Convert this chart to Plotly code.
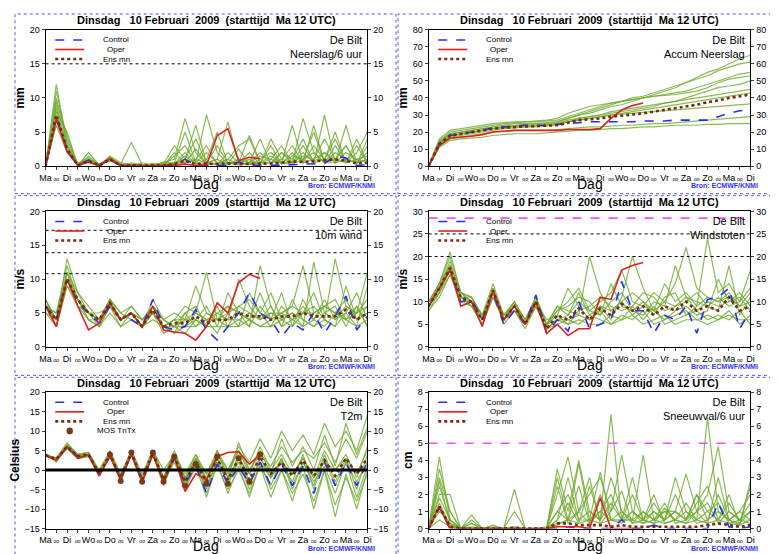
import plotly.graph_objects as go

hours = list(range(0, 361, 12))
hours_op = hours[:21]
day_names = ["Ma","Di","Wo","Do","Vr","Za","Zo","Ma","Di","Wo","Do","Vr","Za","Zo","Ma","Di"]

# ---------- Neerslag/6 uur ----------
pr_mean = [0,7.5,2.5,0.1,0.8,0.1,1.0,0.1,0.1,0.1,0.05,0.1,0.3,0.8,0.3,0.4,0.3,0.4,0.3,0.3,0.4,0.4,0.5,0.7,0.6,0.7,0.8,1.0,0.8,0.4,0.5]
pr_ctrl = [0,7.2,2.4,0.1,0.9,0.1,1.0,0.1,0.1,0.05,0.05,0.1,0.2,1.0,0.2,0.1,0.1,0.1,0.6,0.2,0.1,0.1,0.1,0.2,0.3,0.4,0.4,1.5,1.2,0.1,0.2]
pr_oper = [0,6.8,2.2,0.1,0.6,0.1,1.1,0.1,0.1,0.05,0.05,0.1,0.1,0.3,0.1,0.2,4.5,5.5,0.8,1.3,1.1]
pr_members = [
 [0,9,3,0.2,1.5,0.2,1.2,0.3,3.5,0.2,0.1,0.3,0.5,5,0.5,7.5,2,0.3,0.5,0.3,1,2,0.5,0.3,1,5,0.5,1,3,0.5,1],
 [0,11,4,0.3,0.5,0.1,1.5,0.5,0.2,0.1,0.2,0.4,3,1,6,0.5,1,6.5,0.5,2,0.3,4,1,0.5,7,2,0.5,3,0.5,4,0.5],
 [0,6,2,0.1,2,0.2,0.8,0.1,0.5,0.1,0.1,0.5,1,7,2,0.3,0.5,1,3,4,0.5,1,3,0.5,2,0.5,7.5,0.5,1,0.5,3],
 [0,8,5,0.2,1,0.3,1.2,0.2,0.1,0.5,0.1,0.1,2,0.5,1,3,0.2,0.5,0.2,0.5,2,0.5,0.5,6,0.5,3,1,4,0.5,2,5],
 [0,12,3,0.5,0.8,0.2,0.9,0.2,0.2,0.1,0.3,0.2,0.3,2,0.3,1,5,0.3,1,0.5,4,0.3,2,1,4,0.5,2,0.5,6,0.5,1],
 [0,7,2.5,0.1,1,0.1,1.3,0.1,0.1,0.1,0.1,0.6,0.5,1,4,0.5,0.2,2,0.5,1,0.3,0.5,1,3,0.5,1,4,1,0.5,3,0.5],
 [0,10,3.5,0.2,0.6,0.1,1,0.3,0.3,0.2,0.1,0.2,1.5,3,0.5,2,0.5,0.3,2.5,0.3,0.5,3,0.3,2,0.5,6,0.5,2,1,0.5,2],
 [0,8.5,2,0.3,1.2,0.2,1.1,0.1,0.2,0.1,0.4,0.1,0.5,0.5,1,0.5,3,0.5,0.5,4.5,0.5,0.5,2,0.5,3,0.5,1,5,0.5,1,0.5],
 [0,9.5,4.5,0.1,0.9,0.3,0.8,0.2,0.1,0.1,0.1,0.3,0.2,1.5,0.3,0.5,1,0.2,1,0.5,1.5,1,0.5,1.5,1,2,0.5,0.5,2,1,1.5],
 [0,7.5,3,0.2,0.7,0.1,1.2,0.1,0.1,0.1,0.1,0.1,0.4,0.5,2.5,0.3,0.3,1,0.3,0.3,0.5,1.5,0.5,0.5,1.5,1,2,1,3,0.3,4],
]

# ---------- Accum Neerslag ----------
ac_mean = [0,13,18,19,20,21,22,22.5,23,23.3,23.5,23.8,24,25.5,27,27.5,28,29,29.5,30.3,31,32,33,34,35,36,37.5,38.5,40,41,42]
ac_ctrl = [0,13,18,19,20,21,22.5,23,23.5,24,24,24,24.5,25,25.5,26,26,26,26,26,26.5,26.5,26.5,27,27,27,27,29,31,32.5,33]
ac_oper = [0,12,16.5,17,17.5,18.5,20,20.5,21,21,21,21,21,21.5,21.5,21.5,22,28,33,35.5,37]
ac_members = [
 [0,14,19,20,21,22,23,24,25,25,25,25.5,26,28,30,31,33,35,36,38,40,42,44,46,49,52,55,57,60,63,65],
 [0,15,20,21,22,23,24,25,25.5,26,26,26.5,27,29,31,33,35,37,38,40,41,43,45,47,49,51,53,56,58,60,61],
 [0,12,16,17,18,19,20,20.5,21,21,21,21,21.5,22,22.5,23,23,23.5,24,24,24.5,25,25,25.5,26,26.5,27,27.5,28,28.5,29],
 [0,13,17,18,19,20,21,22,22.5,23,23,23.5,24,26,28,29,30,31,32,33,34,35,37,38,40,42,44,46,47,48,50],
 [0,16,21,22,23,24,25,25.5,26,26,26.5,27,28,31,33,35,36,37,38,39,40,41,42,43,44,46,48,50,52,54,55],
 [0,11,15,16,16.5,17,18,18.5,19,19,19,19.5,20,20.5,21,21,21.5,22,22,22.5,23,23,23.5,24,24,24,24.5,24.5,25,25,25],
 [0,14,18,19,20,21,22,23,23.5,24,24,24.5,25,26,27,28,29,30,31,32,33,34,35,36,37,38,39,40,41,42,43],
 [0,15,19,20,21,22,23,24,24,24.5,25,25,26,28,30,32,34,36,38,39,40,41,41.5,42,43,44,46,49,51,52,53],
 [0,13,18,19,20,21,22,22.5,23,23,23.5,24,25,26,27,28,29,30,30.5,31,31.5,32,32.5,33,33.5,34,34.5,35,35.5,36,36.5],
 [0,14,18,19,20,21,22,23,23.5,24,24,24,25,27,28,29,30,32,33,34,35,36,37,38,39,40,41,42,43,44,45],
]

# ---------- 10m wind ----------
wi_mean = [6,4,10,7,5,4,6.5,4,5,3,5.5,3,3.5,3.5,4.5,3.5,4,4,5,4.5,4.5,4,4.5,4.5,5,4.5,4.5,4.5,5.5,4,5]
wi_ctrl = [6,4,10,6.5,5,3.5,6,4,4,3,7,3,2.5,3,5.5,2.5,1,3,5,8,5,4,1.5,3.5,2.5,5,2,4.5,7.5,2.5,4.5]
wi_oper = [6,3,10,6,2.5,3.5,6.5,4,5,3,6,2.5,2.2,2,1,3,6.5,5,9.5,10.7,10.1]
wi_members = [
 [6,5,12,7,5,4,7,5,6,4,6,4,5,4,9,5,4,6,5,4,8,4,5,6,12,5,6,5,7,4,6],
 [7,4,11,8,6,4,6,4,5,3,5,3,4,6,5,11,4,3,6,5,4,6,3,4,5,8,4,13,6,5,7],
 [5,3,9,6,4,3,6,3,4,3,4,3,3,3,3,4,2,5,3,8,5,3,6,4,3,4,7,4,5,8,4],
 [6,5,10,7,5,5,6,4,6,4,5,3,2,5,6,3,5,4,10,6,4,5,4,3,7,4,3,5,4,3,9],
 [7,4,11,6,5,4,7,5,4,3,6,4,3,2,4,3,6,3,4,3,12,6,3,7,4,3,5,6,3,6,3],
 [6,3,9,7,4,3,5,3,5,3,5,2,3,4,4,6,3,8,5,4,3,4,8,3,5,6,4,3,9,4,5],
 [5,4,10,6,5,4,6,4,5,4,6,3,4,3,5,4,4,5,6,7,5,8,4,5,3,12.5,5,4,6,5,11],
 [6,4,13,8,5,4,7,4,5,3,7,4,3,5,3,5,4,4,4,5,4,5,5,4,6,4,6,7,4,6,3],
 [7,3,10,7,4,4,6,4,5,3,5,3,2,3,4,3,3,3,3,4,3,3,4,5,4,3,4,3,5,3,4],
 [6,4,11,7,5,3,6,4,5,4,5,3,4,4,5,4,5,6,5,3,6,4,5,6,5,5,6,5,4,5,6],
]

# ---------- Windstoten ----------
st_mean = [9,13,17.5,11,10,6,12.5,6,9,5,10,4,7,6,8.5,6,8.5,7,9.5,8,9,7,9,8,10,8,9,8,11,8,9]
st_ctrl = [9,13,17,10,10.5,6,12,5,8,5,11.5,3,6,3.5,10,4,5,6,14.5,8,8,3,7,6,9,3,10.5,11,13,4,8]
st_oper = [9,13,17,9,10,4.5,12.5,6,9,5,10,3,5,2.5,4,4,11,10.5,17,18,18.7]
st_members = [
 [10,14,20,12,11,7,14,7,10,6,11,5,8,10,13,8,10,12,17,10,9,12,10,14,22,13,11,10,12,9,12],
 [9,12,18,12,10,6,13,6,9,5,10,5,9,8,7,20,12,8,10,12,10,8,14,10,12,9,24,12,14,10,17],
 [8,11,16,10,9,5,11,6,8,5,9,4,6,5,6,5,5,7,6,7,5,6,7,5,6,6,5,6,7,6,6],
 [10,13,19,11,11,7,12,7,9,6,10,6,7,13,9,6,9,6,11,20,13,8,6,8,9,7,8,15,10,12,9],
 [9,14,18,12,10,6,13,6,10,5,11,5,6,7,10,8,7,14,9,8,7,10,9,18,11,10,9,8,18,7,11],
 [9,12,17,11,9,6,12,5,8,4,9,4,5,6,5,7,6,5,7,6,8,5,6,7,8,6,7,6,8,5,7],
 [10,13,17,11,10,7,12,7,9,5,10,5,7,5,8,9,11,9,8,9,12,11,8,9,10,12,9,11,9,10,13],
 [9,13,18,10,10,6,13,6,9,5,10,5,8,9,11,10,7,10,12,8,10,7,11,12,7,9,11,10,11,9,10],
 [8,12,16,11,9,5,11,6,8,5,9,4,6,6,7,6,8,5,6,9,6,9,5,6,7,8,6,7,6,8,5],
 [10,14,21,12,11,6,13,7,10,6,11,5,9,7,12,7,9,8,10,7,9,8,10,9,11,8,10,9,10,11,8],
]

# ---------- T2m ----------
t_mean = [3.8,2.8,6,3.5,4,-1,4,-2,4.5,-2.5,4.5,-2.5,3.5,-3,2,-3,3,-2.5,3,-2.5,3.5,-1,2,-1.5,2.5,-1.5,2.5,-1.5,3,-1,3]
t_ctrl = [3.8,2.5,6,3.5,4,-1,3.5,-2,4,-2.5,4,-3,3,-3.5,1,-6,1.5,-3.5,1,-3.5,2,-4,1.5,-4,1,-6,2,-4,2,-4,2]
t_oper = [3.8,2.5,6,3,4,-1.5,3.5,-2.5,4,-3,4,-3,3.5,-5.5,-1,-2.5,3.5,4.5,4.7,1.5,4]
t_members = [
 [4,3,6.5,4,4.5,0,5,-1,5,-1,5,0,4,-1,4,-1,5,0,6,2,8,3,10,5,9,4,12,6,10,5,14],
 [4,2.5,5.5,3,3.5,-1.5,3.5,-2.5,4,-3,4,-4,3,-5,1,-7,2,-6,1,-7,2,-5,0,-8,1,-10,0,-12,-1,-10,0],
 [3.5,3,6,3.5,4,-0.5,4.5,-1.5,4.5,-2,5,-2,4,-2,3,-1,4,0,5,0,4,1,6,2,5,3,7,2,8,3,10],
 [4,2,6,3.5,4,-1,4,-2,4,-3,4,-3,2,-4,1,-4,2,-3,2,-5,1,-4,3,-5,2,-3,1,-6,2,-7,1],
 [3.8,2.5,6.5,4,4,-1,4,-2.5,5,-2.5,4.5,-2.5,3.5,-3,3,-2,4,-1,5,-1,6,0,4,-1,3,-2,5,0,4,-2,6],
 [4,2.5,5.5,3,3.5,-1,3.5,-2,4,-3.5,4,-3,3,-3,2,-5,3,-4,3,-4,3,-2,2,-3,4,-5,3,-4,2,-3,2],
 [4,3,7,4,4.5,-0.5,4.5,-1.5,5,-2,5,-2,5,-2,4,-3,5,-2,7,0,5,-1,8,1,6,0,9,1,12,4,11],
 [3.8,2.5,6,3,4,-1.5,4,-3,4,-3,4,-3.5,3,-4,2,-6,1,-5,0,-6,1,-7,0,-6,-1,-8,0,-9,-2,-8,-1],
 [4,2.5,6,3.5,4,-1,4,-2,4.5,-2.5,4.5,-2,4,-3,3,-4,2,-3,4,-3,2,-2,3,-4,2,-4,4,-3,3,-5,4],
 [3.8,3,6,3.5,3.5,-1,4,-2,4.5,-2.5,4,-2.5,3.5,-2.5,2.5,-2.5,3,-2,3,-1,3,-1,2,-1,3,-2,2,0,3,-1,5],
]
mos_hours = [72,84,96,108,120,132,144,156,168,180,192,204,216,228,240]
mos_vals = [4,-2.8,4.5,-3,4.5,-3,3.5,-4,1.5,-3.5,3.5,-3.5,3,-3,4]

# ---------- Sneeuwval/6 uur ----------
sn_mean = [0,1.3,0.1,0,0,0,0,0,0.05,0,0,0,0.3,0.3,0.2,0.2,0.2,0.1,0.2,0.1,0.1,0.1,0.1,0.1,0.1,0.1,0.2,0.3,0.2,0.1,0.2]
sn_ctrl = [0,1.2,0,0,0,0,0,0,0,0,0,0,0,0.1,0,0,0,0,0.5,0,0,0.2,0,0,0,0,0,1.5,0.1,0,0.1]
sn_oper = [0,1.3,0,0,0,0,0,0,0,0,0,0,0.1,0.1,0.1,0,1.8,0,0,0,0]
sn_members = [
 [0,4.2,0.5,0,0.3,0,0.1,0,2.3,0,0,0,3.5,1,4,1,0.5,6.7,0.5,1,0.3,1,0.5,3,1,0.5,6.5,1,0.5,0.2,2.5],
 [0,3,1,0,0.8,0,0.2,0,0.1,0,0,0,2,4.2,1,2,3,1,4.3,1,0.5,1.5,0.5,1,3.2,1,2,4.8,1,0.5,1],
 [0,2,2,0,0.1,0,0,0,0,0,0,0.1,1,0.5,3.8,0.5,1,0.5,0.5,0.5,4.3,0.5,1,1,0.5,2,1,0.5,2,0.2,2.8],
 [0,1,0.3,0,0,0,0,0,0,0,0,0,0.5,1.5,0.3,2.5,0.5,3,1,0.3,1,0.5,1.5,0.3,0.5,1,0.3,3,0.5,1,0.5],
 [0,2.5,0.5,0,0.3,0,0,0,0,0,0,0,3,0.5,1,0.3,2,0.5,0.5,2,0.5,1,0.5,2,0.5,1.5,2.5,0.5,1.5,0.5,1.5],
 [0,0.5,0.1,0,0,0,0,0,0,0,0,0,0.2,0.5,0.3,0.5,0.3,0.5,1,0.5,0.3,0.5,0.3,0.5,0.3,0.5,0.3,0.5,0.3,0.2,0.5],
 [0,1.5,0.2,0,0,0,0,0,0,0,0,0,1,2,0.5,1,0.5,1.5,0.5,3,0.5,0.3,0.5,1,0.5,2,0.5,1,0.5,1,2],
 [0,3.5,1,0,0,0,0,0,0,0,0,0,0.3,0.5,2.5,0.3,1,2,0.5,0.5,1,0.5,1,0.5,1.5,0.5,1,1.5,0.3,0.5,0.5],
 [0,2.8,0.3,0,0.5,0,0,0,1,0,0,0,0.5,3,0.5,0.5,3.3,0.5,0.3,1,0.5,2,0.3,0.5,1,0.3,0.5,2,0.5,0.3,1],
 [0,1.8,0.5,0,0,0,0,0,0,0,0,0,2.5,0.3,1,3,0.3,1,2.2,0.3,0.5,0.3,1.2,0.5,0.3,1,1.5,0.3,1,0.5,0.3],
]

panels = [
 dict(mem=pr_members, mean=pr_mean, ctrl=pr_ctrl, oper=pr_oper, rng=[0,20], dt=5, ylab="mm", name="Neerslag/6 uur", dotted=[15], magenta=[]),
 dict(mem=ac_members, mean=ac_mean, ctrl=ac_ctrl, oper=ac_oper, rng=[0,80], dt=10, ylab="mm", name="Accum Neerslag", dotted=[], magenta=[]),
 dict(mem=wi_members, mean=wi_mean, ctrl=wi_ctrl, oper=wi_oper, rng=[0,20], dt=5, ylab="m/s", name="10m wind", dotted=[10.8,13.9,17.2], magenta=[]),
 dict(mem=st_members, mean=st_mean, ctrl=st_ctrl, oper=st_oper, rng=[0,30], dt=5, ylab="m/s", name="Windstoten", dotted=[20,25], magenta=[28.5]),
 dict(mem=t_members, mean=t_mean, ctrl=t_ctrl, oper=t_oper, rng=[-15,20], dt=5, ylab="Celsius", name="T2m", dotted=[], magenta=[]),
 dict(mem=sn_members, mean=sn_mean, ctrl=sn_ctrl, oper=sn_oper, rng=[0,8], dt=1, ylab="cm", name="Sneeuwval/6 uur", dotted=[], magenta=[5]),
]

W, H = 778, 554
xdoms = [[32/W, 358/W], [420/W, 746/W]]
ydoms = [[1-156/H, 1-17/H], [1-340/H, 1-202/H], [1-525/H, 1-386/H]]

tickvals = list(range(0, 361, 12))
ticktext = [day_names[i//2] if i % 2 == 0 else "<span style='font-size:5px'>oo</span>" for i in range(31)]

fig = go.Figure()
layout = dict(width=W, height=H, margin=dict(l=0, r=0, t=0, b=0), showlegend=False,
              paper_bgcolor="white", plot_bgcolor="white",
              font=dict(family="Liberation Sans, Arial", color="black"))
shapes, annotations = [], []
FONT = "Liberation Sans, Arial"
title = "Dinsdag   10 Februari  2009  (starttijd  Ma 12 UTC)"

for k, p in enumerate(panels):
    r, c = k // 2, k % 2
    n = k + 1
    xa = "x" if n == 1 else f"x{n}"
    ya = "y" if n == 1 else f"y{n}"
    for m in p["mem"]:
        fig.add_trace(go.Scatter(x=hours, y=m, mode="lines", xaxis=xa, yaxis=ya,
                                 line=dict(color="rgba(110,170,45,0.8)", width=1.2)))
    fig.add_trace(go.Scatter(x=hours, y=p["ctrl"], mode="lines", xaxis=xa, yaxis=ya,
                             line=dict(color="#2b2bff", width=1.6, dash="dash")))
    fig.add_trace(go.Scatter(x=hours_op, y=p["oper"], mode="lines", xaxis=xa, yaxis=ya,
                             line=dict(color="#e02020", width=1.6)))
    fig.add_trace(go.Scatter(x=hours, y=p["mean"], mode="lines", xaxis=xa, yaxis=ya,
                             line=dict(color="#7a2a10", width=2.6, dash="dot")))
    if k == 4:
        fig.add_trace(go.Scatter(x=mos_hours, y=mos_vals, mode="markers", xaxis=xa, yaxis=ya,
                                 marker=dict(color="#7a3a1a", size=6, symbol="circle")))
    ax = dict(domain=xdoms[c], range=[0, 360], anchor=ya, tickvals=tickvals, ticktext=ticktext,
              tickangle=0, ticks="outside", ticklen=3, showline=True, linecolor="black", mirror=True,
              showgrid=False, zeroline=False, tickfont=dict(size=9, family=FONT))
    ay = dict(domain=ydoms[r], range=p["rng"], anchor=xa, dtick=p["dt"], ticks="outside", ticklen=3,
              showline=True, linecolor="black", mirror=True, showgrid=False, zeroline=False,
              tickfont=dict(size=9, family=FONT),
              title=dict(text=f"<b>{p['ylab']}</b>", font=dict(size=12, family=FONT), standoff=2))
    layout["xaxis" if n == 1 else f"xaxis{n}"] = ax
    layout["yaxis" if n == 1 else f"yaxis{n}"] = ay
    rn = n + 6
    layout[f"yaxis{rn}"] = dict(overlaying=ya, side="right", anchor=xa, range=p["rng"], dtick=p["dt"],
                                ticks="outside", ticklen=3, showgrid=False, zeroline=False,
                                showline=False, tickfont=dict(size=9, family=FONT))
    fig.add_trace(go.Scatter(x=[None], y=[None], xaxis=xa, yaxis=f"y{rn}"))

    xd, yd = f"{xa} domain", f"{ya} domain"
    for v in p["dotted"]:
        shapes.append(dict(type="line", xref=xd, yref=ya, x0=0, x1=1, y0=v, y1=v,
                           line=dict(color="black", width=1, dash="dot")))
    for v in p["magenta"]:
        shapes.append(dict(type="line", xref=xd, yref=ya, x0=0, x1=1, y0=v, y1=v,
                           line=dict(color="#ee55ee", width=1.6, dash="dash")))
    if k == 4:
        shapes.append(dict(type="line", xref=xd, yref=ya, x0=0, x1=1, y0=0, y1=0,
                           line=dict(color="black", width=3)))
    leg = [("Control", dict(color="#2b2bff", width=1.6, dash="dash")),
           ("Oper", dict(color="#e02020", width=1.6)),
           ("Ens mn", dict(color="#7a2a10", width=2.6, dash="dot"))]
    for i, (txt, ln) in enumerate(leg):
        yy = 0.925 - i * 0.07
        shapes.append(dict(type="line", xref=xd, yref=yd, x0=0.03, x1=0.12, y0=yy, y1=yy, line=ln))
        annotations.append(dict(xref=xd, yref=yd, x=0.22, y=yy, text=txt, showarrow=False,
                                xanchor="center", yanchor="middle", font=dict(size=8, family=FONT)))
    if k == 4:
        yy = 0.925 - 3 * 0.07
        shapes.append(dict(type="circle", xref=xd, yref=yd, x0=0.065, x1=0.085, y0=yy-0.025, y1=yy+0.025,
                           fillcolor="#7a3a1a", line=dict(color="#7a3a1a", width=0)))
        annotations.append(dict(xref=xd, yref=yd, x=0.22, y=yy, text="MOS TnTx", showarrow=False,
                                xanchor="center", yanchor="middle", font=dict(size=8, family=FONT)))
    annotations.append(dict(xref=xd, yref=yd, x=0.99, y=0.985, text="De Bilt<br>" + p["name"],
                            showarrow=False, xanchor="right", yanchor="top", align="right",
                            font=dict(size=11, family=FONT)))
    xm = (xdoms[c][0] + xdoms[c][1]) / 2
    annotations.append(dict(xref="paper", yref="paper", x=xm, y=ydoms[r][1] + 1.5/H, text="<b>" + title + "</b>",
                            showarrow=False, xanchor="center", yanchor="bottom", font=dict(size=11, family=FONT)))
    annotations.append(dict(xref="paper", yref="paper", x=xm, y=ydoms[r][0] - 18/H, text="Dag",
                            showarrow=False, xanchor="center", yanchor="middle", font=dict(size=14, family=FONT)))
    annotations.append(dict(xref="paper", yref="paper", x=xdoms[c][1] + 10/W, y=ydoms[r][0] - 20/H,
                            text="<b>Bron: ECMWF/KNMI</b>", showarrow=False, xanchor="right", yanchor="middle",
                            font=dict(size=7, family=FONT, color="#3333ff")))
    shapes.append(dict(type="rect", xref="paper", yref="paper",
                       x0=c*388/W + 1/W, x1=(c*388 + (388 if c == 0 else 389))/W - 1/W,
                       y0=1 - (r*185 + 184)/H, y1=1 - (r*185 + 1)/H,
                       line=dict(color="#5555ee", width=1, dash="dot")))

layout["shapes"] = shapes
layout["annotations"] = annotations
fig.update_layout(**layout)
fig.write_html("out.html")
